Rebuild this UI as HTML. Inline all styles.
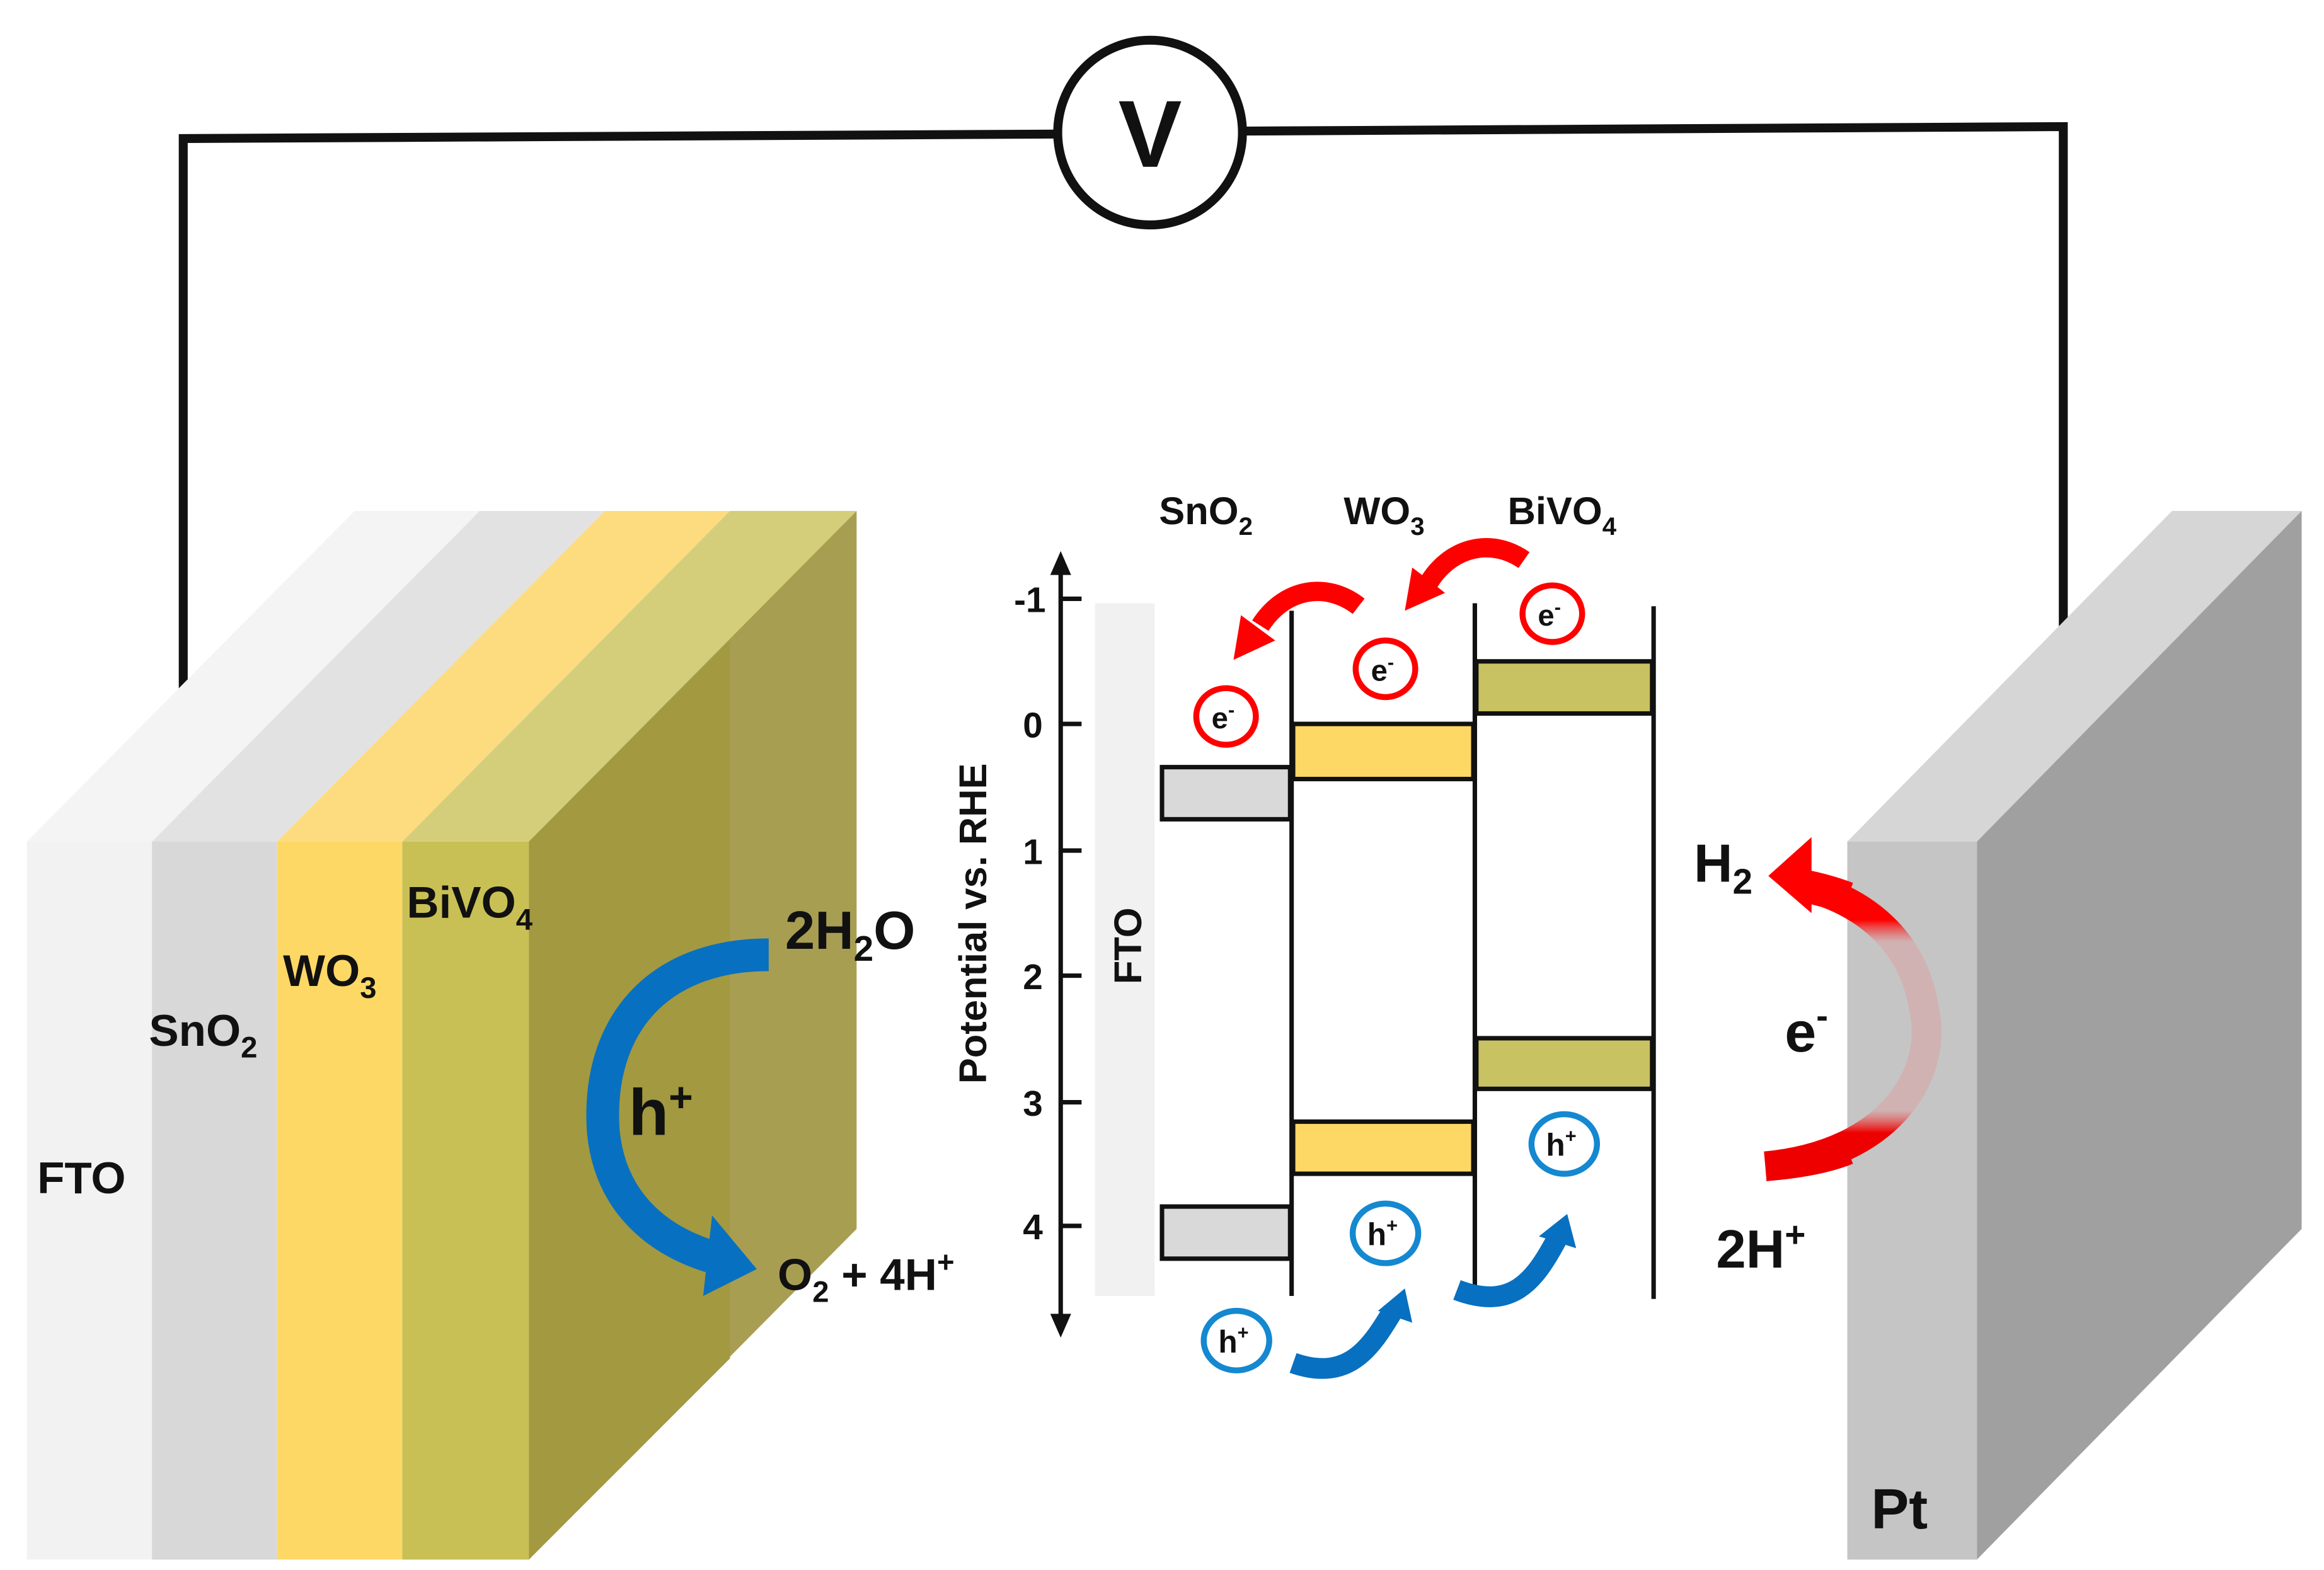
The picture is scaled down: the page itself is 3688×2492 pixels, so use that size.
<!DOCTYPE html>
<html><head><meta charset="utf-8"><style>html,body{margin:0;padding:0;background:#fff}svg{display:block}text{font-family:"Liberation Sans",Arial,sans-serif;font-weight:bold;fill:#111}</style></head>
<body>
<svg width="3688" height="2492" viewBox="0 0 1560 1054" preserveAspectRatio="none" xmlns="http://www.w3.org/2000/svg">
<defs>
<linearGradient id="rg" x1="0" y1="0" x2="0" y2="1">
<stop offset="0" stop-color="#ff0000"/><stop offset="0.12" stop-color="#ff0000"/><stop offset="0.2" stop-color="#d9a6a6" stop-opacity="0.6"/><stop offset="0.8" stop-color="#d9a6a6" stop-opacity="0.6"/><stop offset="0.88" stop-color="#ee0000"/><stop offset="1" stop-color="#ee0000"/>
</linearGradient>
</defs>
<rect width="1560" height="1054" fill="#fff"/>
<!-- wires -->
<polyline points="123,484 123,93 710,90" fill="none" stroke="#111" stroke-width="6"/>
<polyline points="834,88 1385,85 1385,434" fill="none" stroke="#111" stroke-width="6"/>
<circle cx="772" cy="89" r="62" fill="#fff" stroke="#111" stroke-width="6"/>
<text x="772" y="112" font-size="64" text-anchor="middle">V</text>

<!-- left block -->
<polygon points="18,565 102,565 322,343 238,343" fill="#f4f4f4"/>
<polygon points="102,565 186,565 406,343 322,343" fill="#e2e2e2"/>
<polygon points="186,565 270,565 490,343 406,343" fill="#fddc80"/>
<polygon points="270,565 355,565 575,343 490,343" fill="#d4ce7a"/>
<polygon points="355,565 575,343 575,825 355,1047" fill="#a89e52"/>
<polygon points="355,565 490,430 490,912 355,1047" fill="#a29940"/>
<rect x="18" y="565" width="84" height="482" fill="#f2f2f2"/>
<rect x="102" y="565" width="84" height="482" fill="#d8d8d8"/>
<rect x="186" y="565" width="84" height="482" fill="#fed865"/>
<rect x="270" y="565" width="85" height="482" fill="#c9c055"/>
<text x="25" y="801" font-size="30">FTO</text>
<text x="100" y="702" font-size="30">SnO<tspan font-size="20" dy="8">2</tspan></text>
<text x="190" y="662" font-size="30">WO<tspan font-size="20" dy="8">3</tspan></text>
<text x="273" y="616" font-size="30">BiVO<tspan font-size="20" dy="8">4</tspan></text>
<path d="M516,641 C440,641 400,690 405,760 C410,810 445,835 482,845" fill="none" stroke="#0870c0" stroke-width="22"/>
<polygon points="478,816 508,852 472,870" fill="#0870c0"/>
<text x="527" y="637" font-size="36">2H<tspan font-size="24" dy="8">2</tspan><tspan dy="-8">O</tspan></text>
<text x="422" y="762" font-size="44">h<tspan font-size="28" dy="-16">+</tspan></text>
<text x="522" y="866" font-size="30">O<tspan font-size="20" dy="8">2</tspan><tspan dy="-8"> + 4H</tspan><tspan font-size="20" dy="-12">+</tspan></text>

<!-- band diagram -->
<rect x="735" y="405" width="40" height="465" fill="#f1f1f1"/>
<text transform="translate(766,635) rotate(-90)" font-size="26" text-anchor="middle">FTO</text>
<line x1="712" y1="382" x2="712" y2="888" stroke="#111" stroke-width="3"/>
<polygon points="712,370 705,386 719,386" fill="#111"/>
<polygon points="712,898 705,882 719,882" fill="#111"/>
<g stroke="#111" stroke-width="3">
<line x1="712" y1="402" x2="726" y2="402"/><line x1="712" y1="486" x2="726" y2="486"/><line x1="712" y1="571" x2="726" y2="571"/>
<line x1="712" y1="655" x2="726" y2="655"/><line x1="712" y1="740" x2="726" y2="740"/><line x1="712" y1="823" x2="726" y2="823"/>
</g>
<g font-size="24" text-anchor="end">
<text x="702" y="411">-1</text><text x="700" y="495">0</text><text x="700" y="580">1</text><text x="700" y="664">2</text><text x="700" y="749">3</text><text x="700" y="832">4</text>
</g>
<text transform="translate(662,620) rotate(-90)" font-size="26" text-anchor="middle">Potential vs. RHE</text>
<text x="778" y="352" font-size="26">SnO<tspan font-size="17" dy="7">2</tspan></text>
<text x="902" y="352" font-size="26">WO<tspan font-size="17" dy="7">3</tspan></text>
<text x="1012" y="352" font-size="26">BiVO<tspan font-size="17" dy="7">4</tspan></text>
<g stroke="#111" stroke-width="3">
<line x1="867" y1="410" x2="867" y2="870"/><line x1="990" y1="405" x2="990" y2="870"/><line x1="1110" y1="407" x2="1110" y2="872"/>
<rect x="780" y="515" width="86" height="35" fill="#d9d9d9"/>
<rect x="780" y="810" width="86" height="35" fill="#d9d9d9"/>
<rect x="868" y="486" width="121" height="37" fill="#fed865"/>
<rect x="868" y="753" width="121" height="35" fill="#fed865"/>
<rect x="991" y="444" width="118" height="35" fill="#c9c262"/>
<rect x="991" y="697" width="118" height="34" fill="#c9c262"/>
</g>
<g fill="#fff" stroke="#ff0000" stroke-width="4">
<ellipse cx="823" cy="481" rx="20" ry="19"/><ellipse cx="930" cy="449" rx="20" ry="19"/><ellipse cx="1042" cy="412" rx="20" ry="19"/>
</g>
<g font-size="20" text-anchor="middle">
<text x="821" y="489">e<tspan font-size="13" dy="-8">-</tspan></text>
<text x="928" y="457">e<tspan font-size="13" dy="-8">-</tspan></text>
<text x="1040" y="420">e<tspan font-size="13" dy="-8">-</tspan></text>
</g>
<path d="M912,407 C890,390 862,395 846,420" fill="none" stroke="#ff0000" stroke-width="13"/>
<polygon points="828,443 833,413 856,430" fill="#ff0000"/>
<path d="M1023,376 C1000,360 972,368 958,393" fill="none" stroke="#ff0000" stroke-width="13"/>
<polygon points="943,410 948,381 970,398" fill="#ff0000"/>
<g fill="#fff" stroke="#1488d0" stroke-width="4">
<ellipse cx="830" cy="900" rx="22" ry="20"/><ellipse cx="930" cy="828" rx="22" ry="20"/><ellipse cx="1050" cy="768" rx="22" ry="20"/>
</g>
<g font-size="21" text-anchor="middle">
<text x="828" y="908">h<tspan font-size="13" dy="-9">+</tspan></text>
<text x="928" y="836">h<tspan font-size="13" dy="-9">+</tspan></text>
<text x="1048" y="776">h<tspan font-size="13" dy="-9">+</tspan></text>
</g>
<path d="M868,915 C905,928 920,905 935,880" fill="none" stroke="#0870c0" stroke-width="14"/>
<polygon points="943,865 925,880 948,888" fill="#0870c0"/>
<path d="M978,866 C1015,880 1030,860 1045,832" fill="none" stroke="#0870c0" stroke-width="14"/>
<polygon points="1052,815 1033,830 1058,838" fill="#0870c0"/>

<!-- Pt block -->
<polygon points="1240,565 1327,565 1545,343 1458,343" fill="#d6d6d6"/>
<polygon points="1327,565 1545,343 1545,825 1327,1047" fill="#a0a0a0"/>
<rect x="1240" y="565" width="87" height="482" fill="#c5c5c5"/>
<path d="M1185,783 C1270,775 1300,720 1292,680 C1285,630 1250,605 1212,595" fill="none" stroke="url(#rg)" stroke-width="20"/>
<path d="M1185,783 C1210,781 1228,777 1240,772" fill="none" stroke="#ee0000" stroke-width="20"/>
<path d="M1212,595 C1222,597 1232,600 1240,603" fill="none" stroke="#ff0000" stroke-width="22"/>
<polygon points="1187,588 1216,562 1216,613" fill="#ff0000"/>
<text x="1137" y="592" font-size="36">H<tspan font-size="24" dy="8">2</tspan></text>
<text x="1198" y="706" font-size="38">e<tspan font-size="24" dy="-16">-</tspan></text>
<text x="1152" y="851" font-size="36">2H<tspan font-size="24" dy="-14">+</tspan></text>
<text x="1256" y="1026" font-size="38">Pt</text>
</svg>
</body></html>
